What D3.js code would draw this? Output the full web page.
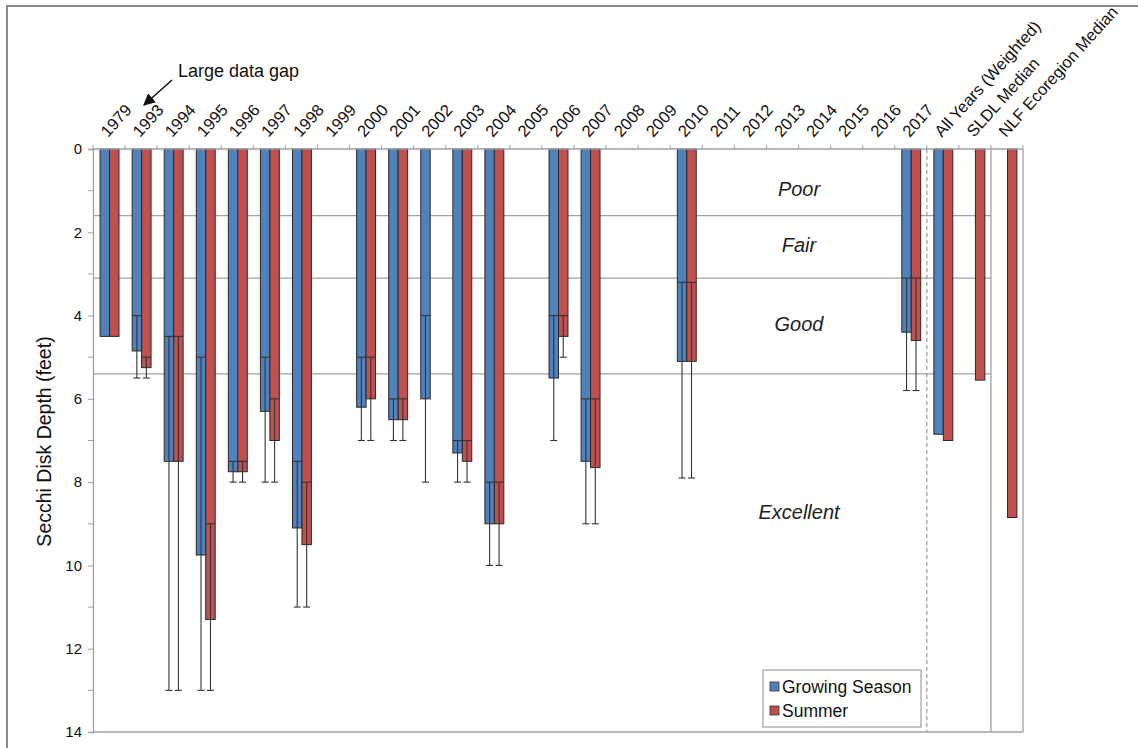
<!DOCTYPE html>
<html>
<head>
<meta charset="utf-8">
<script src="https://cdn.jsdelivr.net/npm/d3@7"></script>
<style>
  html, body { margin: 0; padding: 0; background: #fff; }
  svg { display: block; font-family: Arial, "Liberation Sans", sans-serif; }
</style>
</head>
<body>
<svg id="chart" width="1138" height="748"></svg>
<script>
// ---------------- data ----------------
const categories = ["1979","1993","1994","1995","1996","1997","1998","1999","2000","2001","2002","2003","2004","2005","2006","2007","2008","2009","2010","2011","2012","2013","2014","2015","2016","2017","All Years (Weighted)","SLDL Median","NLF Ecoregion Median"];
const growing    = [4.5, 4.85, 7.5, 9.75, 7.75, 6.3, 9.1, null, 6.2, 6.5, 6.0, 7.3, 9.0, null, 5.5, 7.5, null, null, 5.1, null, null, null, null, null, null, 4.4, 6.85, null, null];
const growingMin = [null, 4.0, 4.5, 5.0, 7.5, 5.0, 7.5, null, 5.0, 6.0, 4.0, 7.0, 8.0, null, 4.0, 6.0, null, null, 3.2, null, null, null, null, null, null, 3.1, null, null, null];
const growingMax = [null, 5.5, 13, 13, 8, 8, 11, null, 7, 7, 8, 8, 10, null, 7, 9, null, null, 7.9, null, null, null, null, null, null, 5.8, null, null, null];
const summer     = [4.5, 5.25, 7.5, 11.3, 7.75, 7.0, 9.5, null, 6.0, 6.5, null, 7.5, 9.0, null, 4.5, 7.65, null, null, 5.1, null, null, null, null, null, null, 4.6, 7.0, 5.55, 8.85];
const summerMin  = [null, 5.0, 4.5, 9.0, 7.5, 6.0, 8.0, null, 5.0, 6.0, null, 7.0, 8.0, null, 4.0, 6.0, null, null, 3.2, null, null, null, null, null, null, 3.1, null, null, null];
const summerMax  = [null, 5.5, 13, 13, 8, 8, 11, null, 7, 7, null, 8, 10, null, 5.0, 9, null, null, 7.9, null, null, null, null, null, null, 5.8, null, null, null];
const yTicks = [0, 2, 4, 6, 8, 10, 12, 14];
const zoneLimits = [1.6, 3.1, 5.4];
const zones = [
  {label: "Poor", pos: 1.0},
  {label: "Fair", pos: 2.35},
  {label: "Good", pos: 4.25},
  {label: "Excellent", pos: 8.75}
];
const seriesNames = ["Growing Season", "Summer"];
const colors = ["#4F81BD", "#C0504D"];

// ---------------- layout ----------------
const svg = d3.select("#chart");
const L = 93, R = 1023, T = 149, B = 732;

const x = d3.scaleBand().domain(categories).range([L, R]).padding(0);
const y = d3.scaleLinear().domain([0, 14]).range([T, B]);
const step = x.step();
const bw = step * 0.295;
const capW = 7;

// outer frame
svg.append("rect").attr("x", 7).attr("y", 6).attr("width", 1140).attr("height", 760)
  .attr("fill", "none").attr("stroke", "#8a8a8a").attr("stroke-width", 2);

// zone lines
const zoneRight = x("NLF Ecoregion Median");
svg.append("g").selectAll("line").data(zoneLimits).join("line")
  .attr("x1", L).attr("x2", zoneRight)
  .attr("y1", d => y(d)).attr("y2", d => y(d))
  .attr("stroke", "#a0a0a0").attr("stroke-width", 1.3);

// separators
svg.append("line")
  .attr("x1", x("All Years (Weighted)")).attr("x2", x("All Years (Weighted)"))
  .attr("y1", T).attr("y2", B)
  .attr("stroke", "#999").attr("stroke-width", 1.2).attr("stroke-dasharray", "4,3");
svg.append("line")
  .attr("x1", zoneRight).attr("x2", zoneRight)
  .attr("y1", T).attr("y2", B)
  .attr("stroke", "#a0a0a0").attr("stroke-width", 1.3);

// plot border (right & bottom)
svg.append("line").attr("x1", R).attr("x2", R).attr("y1", T).attr("y2", B)
  .attr("stroke", "#a0a0a0").attr("stroke-width", 1.3);
svg.append("line").attr("x1", L).attr("x2", R).attr("y1", B).attr("y2", B)
  .attr("stroke", "#a0a0a0").attr("stroke-width", 1.3);

// zone labels
svg.append("g").selectAll("text").data(zones).join("text")
  .attr("x", 799).attr("y", d => y(d.pos))
  .attr("text-anchor", "middle").attr("dominant-baseline", "middle")
  .attr("font-size", 20).attr("font-style", "italic").attr("fill", "#222")
  .text(d => d.label);

// bars
const series = [
  {vals: growing, mins: growingMin, maxs: growingMax, off: -bw},
  {vals: summer, mins: summerMin, maxs: summerMax, off: 0}
];
const cx = c => x(c) + step / 2 + 0.5;

series.forEach((s, si) => {
  const data = categories.map((c, i) => ({c, v: s.vals[i], lo: s.mins[i], hi: s.maxs[i]}))
    .filter(d => d.v != null);
  svg.append("g").selectAll("rect").data(data).join("rect")
    .attr("x", d => cx(d.c) + s.off)
    .attr("y", y(0))
    .attr("width", bw)
    .attr("height", d => y(d.v) - y(0))
    .attr("fill", colors[si])
    .attr("stroke", "#2a2a2a").attr("stroke-width", 1);
});

series.forEach((s, si) => {
  const data = categories.map((c, i) => ({c, v: s.vals[i], lo: s.mins[i], hi: s.maxs[i]}))
    .filter(d => d.v != null && d.lo != null);
  const g = svg.append("g").attr("stroke", "#333").attr("stroke-width", 1.1);
  data.forEach(d => {
    const mx = cx(d.c) + s.off + bw / 2;
    g.append("line").attr("x1", mx).attr("x2", mx).attr("y1", y(d.lo)).attr("y2", y(d.hi));
    g.append("line").attr("x1", mx - bw / 2).attr("x2", mx + bw / 2).attr("y1", y(d.lo)).attr("y2", y(d.lo));
    g.append("line").attr("x1", mx - capW / 2).attr("x2", mx + capW / 2).attr("y1", y(d.hi)).attr("y2", y(d.hi));
  });
});

// top axis
svg.append("line").attr("x1", L).attr("x2", R).attr("y1", T).attr("y2", T)
  .attr("stroke", "#a0a0a0").attr("stroke-width", 1.3);
const bounds = categories.map(c => x(c)).concat([R]);
svg.append("g").selectAll("line").data(bounds).join("line")
  .attr("x1", d => d).attr("x2", d => d).attr("y1", T).attr("y2", T - 4)
  .attr("stroke", "#a0a0a0").attr("stroke-width", 1);
svg.append("g").selectAll("text").data(categories).join("text")
  .attr("transform", c => `translate(${x(c) + step / 2 - 1},${T - 11}) rotate(-48)`)
  .attr("font-size", 16.5).attr("fill", "#111")
  .text(c => c);

// left axis
const yAxis = d3.axisLeft(y).tickValues(yTicks).tickSize(5).tickPadding(6);
const gy = svg.append("g").attr("transform", `translate(${L},0)`).call(yAxis);
gy.select(".domain").attr("stroke", "#a0a0a0").attr("stroke-width", 1.3);
gy.selectAll(".tick line").attr("stroke", "#a0a0a0");
gy.selectAll(".tick text").attr("font-size", 15).attr("fill", "#111")
  .attr("font-family", "Arial, 'Liberation Sans', sans-serif");
const minorTicks = d3.range(1, 14, 2);
svg.append("g").selectAll("line").data(minorTicks).join("line")
  .attr("x1", L - 5).attr("x2", L).attr("y1", d => y(d)).attr("y2", d => y(d))
  .attr("stroke", "#a0a0a0");

svg.append("text")
  .attr("transform", `translate(51,${(T + B) / 2 + 1}) rotate(-90)`)
  .attr("text-anchor", "middle").attr("font-size", 19.5).attr("fill", "#111")
  .text("Secchi Disk Depth (feet)");

// annotation
svg.append("text").attr("x", 178).attr("y", 77).attr("font-size", 18).attr("fill", "#111")
  .text("Large data gap");
svg.append("defs").append("marker").attr("id", "arrow")
  .attr("viewBox", "0 0 10 10").attr("refX", 9).attr("refY", 5)
  .attr("markerWidth", 8).attr("markerHeight", 8).attr("orient", "auto")
  .append("path").attr("d", "M0,0 L10,5 L0,10 z").attr("fill", "#111");
svg.append("line").attr("x1", 172).attr("y1", 80).attr("x2", 144).attr("y2", 105)
  .attr("stroke", "#111").attr("stroke-width", 1.5).attr("marker-end", "url(#arrow)");

// legend
const lg = svg.append("g").attr("transform", "translate(763,670)");
lg.append("rect").attr("width", 158).attr("height", 57)
  .attr("fill", "#fff").attr("stroke", "#a0a0a0").attr("stroke-width", 1.2);
seriesNames.forEach((n, i) => {
  lg.append("rect").attr("x", 7).attr("y", 12 + i * 24).attr("width", 9).attr("height", 9)
    .attr("fill", colors[i]).attr("stroke", "#333").attr("stroke-width", 0.8);
  lg.append("text").attr("x", 19).attr("y", 23 + i * 24).attr("font-size", 17.5).attr("fill", "#111")
    .text(n);
});
</script>
</body>
</html>
